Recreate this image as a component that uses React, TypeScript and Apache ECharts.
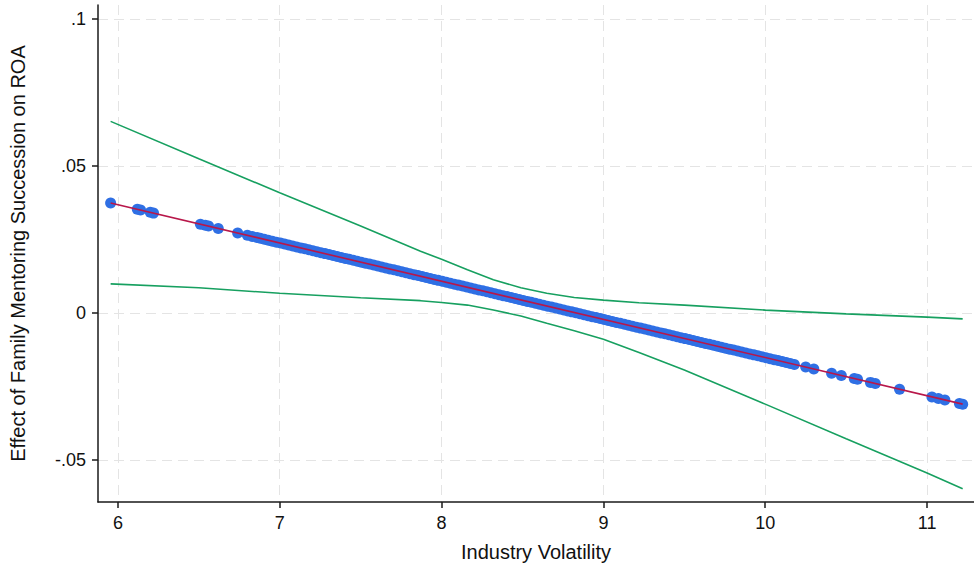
import React, { useEffect, useRef } from "react";
import * as echarts from "echarts";

// Confidence interval bands
const ciX = [5.955, 6.5, 7, 7.5, 7.87, 8, 8.16, 8.32, 8.49, 8.65, 8.82, 9, 9.22, 9.5, 10, 10.5, 11, 11.22];
const ciUpper = [0.0652, 0.0525, 0.0409, 0.0296, 0.0210, 0.0183, 0.0147, 0.0113, 0.0086, 0.0067, 0.0053, 0.0044, 0.0035, 0.0027, 0.0010, -0.0003, -0.0014, -0.0020];
const ciLower = [0.0099, 0.0086, 0.0067, 0.0052, 0.0042, 0.0036, 0.0027, 0.0010, -0.0010, -0.0035, -0.0060, -0.0089, -0.0134, -0.0194, -0.0310, -0.0428, -0.0544, -0.0598];

// Fitted marginal-effect line
const fitX = [5.955, 11.22];
const fitY = [0.0374, -0.0310];

// Observed points (marginal effect at each observed volatility)
const pointX = [
  5.955, 6.12, 6.14, 6.2, 6.22, 6.51, 6.54, 6.56, 6.62, 6.74, 6.8, 6.83, 6.86,
  6.88, 6.93, 6.98, 7.03, 7.08, 7.13, 7.18, 7.23, 7.28, 7.33, 7.38, 7.43, 7.48,
  7.53, 7.58, 7.63, 7.68, 7.73, 7.78, 7.83, 7.88, 7.93, 7.98, 8.03, 8.08, 8.13,
  8.18, 8.23, 8.28, 8.33, 8.38, 8.43, 8.48, 8.53, 8.58, 8.63, 8.68, 8.73, 8.78,
  8.83, 8.88, 8.93, 8.98, 9.03, 9.08, 9.13, 9.18, 9.23, 9.28, 9.33, 9.38, 9.43,
  9.48, 9.53, 9.58, 9.63, 9.68, 9.73, 9.78, 9.83, 9.88, 9.93, 9.98, 10.03, 10.08,
  10.13, 10.18, 10.25, 10.3, 10.41, 10.47, 10.55, 10.57, 10.65, 10.68, 10.83,
  11.03, 11.07, 11.11, 11.2, 11.22,
];
const pointY = [
  0.03744, 0.03529, 0.03503, 0.03425, 0.03399, 0.03022, 0.02983, 0.02957, 0.02879, 0.02723, 0.02645, 0.02606, 0.02567,
  0.02541, 0.02476, 0.02411, 0.02346, 0.02281, 0.02216, 0.02151, 0.02086, 0.02021, 0.01956, 0.01891, 0.01826, 0.01761,
  0.01696, 0.01631, 0.01566, 0.01501, 0.01436, 0.01371, 0.01306, 0.01241, 0.01176, 0.01111, 0.01046, 0.00981, 0.00916,
  0.00851, 0.00786, 0.00721, 0.00656, 0.00591, 0.00526, 0.00461, 0.00396, 0.00331, 0.00266, 0.00201, 0.00136, 0.00071,
  0.00006, -0.00059, -0.00124, -0.00189, -0.00254, -0.00319, -0.00384, -0.00449, -0.00514, -0.00579, -0.00644, -0.00709, -0.00774,
  -0.00839, -0.00904, -0.00969, -0.01034, -0.01099, -0.01164, -0.01229, -0.01294, -0.01359, -0.01424, -0.01489, -0.01554, -0.01619,
  -0.01684, -0.01749, -0.0184, -0.01905, -0.02048, -0.02126, -0.0223, -0.02256, -0.0236, -0.02399, -0.02594,
  -0.02854, -0.02906, -0.02958, -0.03075, -0.03101,
];

// Further observations packed in the dense middle range
const densePointX = [
  6.905, 6.955, 7.005, 7.055, 7.105, 7.155, 7.205, 7.255, 7.305, 7.355, 7.405,
  7.455, 7.505, 7.555, 7.605, 7.655, 7.705, 7.755, 7.805, 7.855, 7.905, 7.955,
  8.005, 8.055, 8.105, 8.155, 8.205, 8.255, 8.305, 8.355, 8.405, 8.455, 8.505,
  8.555, 8.605, 8.655, 8.705, 8.755, 8.805, 8.855, 8.905, 8.955, 9.005, 9.055,
  9.105, 9.155, 9.205, 9.255, 9.305, 9.355, 9.405, 9.455, 9.505, 9.555, 9.605,
  9.655, 9.705, 9.755, 9.805, 9.855, 9.905, 9.955, 10.005, 10.055, 10.105, 10.155,
];
const densePointY = [
  0.02509, 0.02444, 0.02379, 0.02314, 0.02249, 0.02184, 0.02119, 0.02054, 0.01989, 0.01924, 0.01859,
  0.01794, 0.01729, 0.01664, 0.01599, 0.01534, 0.01469, 0.01404, 0.01339, 0.01274, 0.01209, 0.01144,
  0.01079, 0.01014, 0.00949, 0.00884, 0.00819, 0.00754, 0.00689, 0.00624, 0.00559, 0.00494, 0.00429,
  0.00364, 0.00299, 0.00234, 0.00169, 0.00104, 0.00039, -0.00026, -0.00091, -0.00156, -0.00221, -0.00286,
  -0.00351, -0.00416, -0.00481, -0.00546, -0.00611, -0.00676, -0.00741, -0.00806, -0.00871, -0.00936, -0.01001,
  -0.01066, -0.01131, -0.01196, -0.01261, -0.01326, -0.01391, -0.01456, -0.01521, -0.01586, -0.01651, -0.01716,
];

const xTicks = [6, 7, 8, 9, 10, 11];
const yTicks = [-0.05, 0, 0.05, 0.1];

const zip = (xs: number[], ys: number[]) => xs.map((x, i) => [x, ys[i]]);

const FONT = "'Liberation Sans', Arial, sans-serif";
const AXIS_COLOR = "#1a1a1a";
const GRID_COLOR = "#e4e4e4";
const POINT_COLOR = "#2f6fe4";
const CI_COLOR = "#17a060";

export default function App() {
  const ref = useRef<HTMLDivElement>(null);

  useEffect(() => {
    if (!ref.current) return;
    const chart = echarts.init(ref.current, undefined, { renderer: "svg" });
    chart.setOption({
      animation: false,
      backgroundColor: "#ffffff",
      grid: { left: 97, right: 0, top: 5, bottom: 66, containLabel: false },
      xAxis: {
        type: "value",
        min: 5.877,
        max: 11.29,
        name: "Industry Volatility",
        nameLocation: "middle",
        nameGap: 40,
        nameTextStyle: { fontFamily: FONT, fontSize: 20, color: "#111" },
        axisLine: { show: true, onZero: false, lineStyle: { color: AXIS_COLOR, width: 1.5 } },
        axisTick: { show: true, length: 6, customValues: xTicks, lineStyle: { color: AXIS_COLOR, width: 1.5 } },
        axisLabel: {
          customValues: xTicks,
          margin: 12,
          fontFamily: FONT,
          fontSize: 18,
          color: "#111",
          formatter: (v: number) => String(v),
        },
        splitLine: { show: true, lineStyle: { color: GRID_COLOR, type: [10, 6], width: 1 } },
      },
      yAxis: {
        type: "value",
        min: -0.0643,
        max: 0.1048,
        name: "Effect of Family Mentoring Succession on ROA",
        nameLocation: "middle",
        nameGap: 70,
        nameTextStyle: { fontFamily: FONT, fontSize: 20, color: "#111" },
        axisLine: { show: true, onZero: false, lineStyle: { color: AXIS_COLOR, width: 1.5 } },
        axisTick: { show: true, length: 6, customValues: yTicks, lineStyle: { color: AXIS_COLOR, width: 1.5 } },
        axisLabel: {
          customValues: yTicks,
          margin: 12,
          fontFamily: FONT,
          fontSize: 18,
          color: "#111",
          formatter: (v: number) => {
            if (Math.abs(v) < 1e-9) return "0";
            const s = String(Math.round(v * 1000) / 1000);
            return s.replace("0.", ".");
          },
        },
        splitLine: { show: true, lineStyle: { color: GRID_COLOR, type: [10, 6], width: 1 } },
      },
      series: [
        {
          type: "line",
          data: zip(ciX, ciUpper),
          showSymbol: false,
          smooth: false,
          lineStyle: { color: CI_COLOR, width: 1.6 },
          z: 2,
        },
        {
          type: "line",
          data: zip(ciX, ciLower),
          showSymbol: false,
          smooth: false,
          lineStyle: { color: CI_COLOR, width: 1.6 },
          z: 2,
        },
        {
          type: "scatter",
          data: zip(pointX, pointY),
          symbol: "circle",
          symbolSize: 11,
          itemStyle: { color: POINT_COLOR, opacity: 1 },
          z: 3,
        },
        {
          type: "scatter",
          data: zip(densePointX, densePointY),
          symbol: "circle",
          symbolSize: 11,
          itemStyle: { color: POINT_COLOR, opacity: 1 },
          z: 3,
        },
        {
          type: "line",
          data: zip(fitX, fitY),
          showSymbol: false,
          lineStyle: { color: "#b8174a", width: 1.6 },
          z: 4,
        },
      ],
    });
    return () => chart.dispose();
  }, []);

  return (
    <div
      ref={ref}
      style={{ position: "fixed", left: 0, top: 0, width: 974, height: 568, background: "#fff" }}
    />
  );
}
